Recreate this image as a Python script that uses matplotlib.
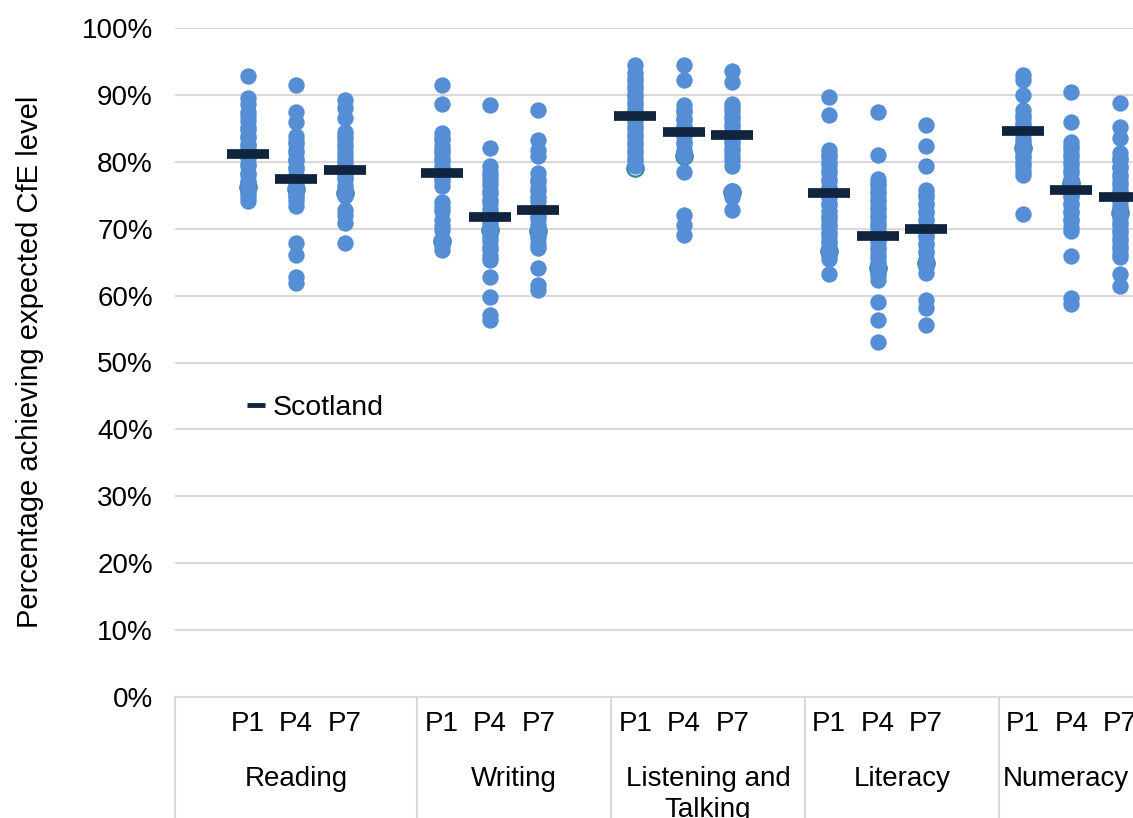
import matplotlib
matplotlib.use('Agg')
import matplotlib.pyplot as plt
import matplotlib.transforms as mtransforms
from matplotlib.lines import Line2D

plt.rcParams['font.family'] = ['Liberation Sans', 'DejaVu Sans']

# categories
groups = ['Reading', 'Writing', 'Listening and\nTalking', 'Literacy', 'Numeracy']
stages = ['P1', 'P4', 'P7']

# local authority values (% achieving expected level)
reading_p1 = [92.8, 89.6, 88.7, 87.5, 86.9, 86.1, 85.2, 84.7, 83.9, 83.5, 82.7, 82.3, 81.7,
              80.9, 80.5, 79.6, 79.3, 78.4, 78.1, 77.2, 76.8, 76.1, 75.6, 75.3, 74.7, 74.2]
reading_p4 = [91.5, 87.5, 86.0, 83.8, 83.1, 82.6, 81.7, 81.3, 80.4, 80.1, 79.2, 78.9, 78.1,
              77.5, 77.0, 76.3, 75.9, 75.0, 74.7, 74.1, 73.4, 67.8, 66.1, 62.8, 61.9]
reading_p7 = [89.2, 88.1, 86.5, 84.5, 83.8, 83.4, 82.6, 82.2, 81.4, 80.8, 80.3, 79.6, 79.2,
              78.4, 77.8, 77.4, 76.6, 76.0, 75.5, 74.9, 72.8, 72.0, 70.8, 67.8]
writing_p1 = [91.5, 88.6, 84.3, 83.6, 83.2, 82.4, 81.8, 81.3, 80.6, 80.1, 79.4, 78.8, 78.2,
              77.6, 77.1, 76.4, 74.0, 73.2, 72.6, 71.3, 70.4, 69.8, 68.3, 67.5, 66.8]
writing_p4 = [88.5, 82.0, 79.3, 78.5, 77.9, 77.1, 76.6, 75.7, 75.2, 74.3, 73.8, 72.9, 72.4,
              71.5, 70.9, 70.1, 69.6, 68.7, 68.2, 67.3, 66.8, 65.9, 65.3, 62.8, 59.8, 57.1, 56.4]
writing_p7 = [87.8, 83.3, 81.8, 80.8, 78.3, 77.5, 77.0, 76.1, 75.6, 74.7, 74.2, 73.3, 72.8,
              71.9, 71.4, 70.5, 69.9, 69.1, 68.6, 67.7, 67.1, 64.1, 61.6, 60.8]
listening_p1 = [94.5, 93.2, 92.5, 92.1, 91.3, 90.9, 90.1, 89.7, 88.9, 88.5, 87.7, 87.3, 86.5,
                86.1, 85.3, 84.9, 84.1, 83.7, 82.9, 82.5, 81.7, 81.3, 80.5, 80.1, 79.3]
listening_p4 = [94.5, 92.2, 88.5, 87.8, 87.4, 86.6, 86.2, 85.4, 85.0, 84.2, 83.8, 83.0, 82.6,
                81.8, 81.4, 80.8, 78.5, 72.0, 70.5, 69.1]
listening_p7 = [93.5, 92.0, 88.7, 88.0, 87.6, 86.8, 86.4, 85.6, 85.2, 84.4, 84.0, 83.2, 82.8,
                82.0, 81.6, 80.8, 80.2, 79.3, 75.6, 74.8, 72.8]
literacy_p1 = [89.7, 87.0, 81.8, 81.1, 80.7, 79.9, 79.5, 78.7, 78.3, 77.5, 77.1, 76.3, 75.9,
               75.1, 74.7, 73.9, 73.5, 72.7, 71.9, 71.5, 70.7, 70.3, 69.5, 69.1, 68.3, 67.9,
               67.1, 66.7, 66.0, 65.4, 63.3]
literacy_p4 = [87.5, 81.0, 77.5, 76.8, 76.4, 75.6, 75.2, 74.4, 74.0, 73.2, 72.8, 72.0, 71.6,
               70.8, 70.4, 69.6, 69.2, 68.4, 68.0, 67.2, 66.8, 66.0, 65.6, 64.8, 64.4, 63.6,
               63.1, 62.4, 59.1, 56.4, 53.1]
literacy_p7 = [85.5, 82.3, 79.3, 75.8, 75.1, 74.7, 73.9, 73.5, 72.7, 72.3, 71.5, 71.1, 70.3,
               69.9, 69.1, 68.7, 67.9, 67.5, 66.7, 66.3, 65.5, 65.0, 64.3, 63.4, 59.3, 58.1, 55.6]
numeracy_p1 = [93.0, 92.3, 90.0, 87.7, 87.0, 86.6, 85.8, 85.4, 84.6, 84.2, 83.4, 83.0, 82.2,
               81.8, 81.0, 80.6, 79.8, 79.4, 78.6, 78.0, 72.2]
numeracy_p4 = [90.5, 86.0, 83.0, 82.3, 81.9, 81.1, 80.7, 79.9, 79.5, 78.7, 78.3, 77.5, 77.1,
               76.3, 75.9, 75.1, 74.7, 73.9, 73.5, 72.7, 72.3, 71.5, 71.1, 70.3, 69.7, 65.9,
               59.6, 58.8]
numeracy_p7 = [88.8, 85.2, 83.5, 81.3, 80.6, 80.2, 79.4, 79.0, 78.2, 77.8, 77.0, 76.6, 75.8,
               75.4, 74.6, 74.2, 73.4, 73.0, 72.2, 71.8, 71.0, 70.6, 69.8, 69.4, 68.6, 68.2,
               67.4, 67.0, 66.2, 65.8, 63.3, 61.4]

series = [
    [reading_p1, reading_p4, reading_p7],
    [writing_p1, writing_p4, writing_p7],
    [listening_p1, listening_p4, listening_p7],
    [literacy_p1, literacy_p4, literacy_p7],
    [numeracy_p1, numeracy_p4, numeracy_p7],
]

# highlighted authority (open ring) and Scotland average
highlight = [[76.3, 76.0, 75.3], [68.1, 69.8, 69.6], [79.0, 80.8, 75.5],
             [66.6, 64.1, 64.8], [82.0, 76.8, 72.3]]
scotland = [[81.2, 77.4, 78.7], [78.3, 71.8, 72.8], [86.9, 84.4, 84.0],
            [75.3, 68.9, 70.0], [84.6, 75.8, 74.7]]

BLUE = '#558ED5'
TEAL = '#31869B'
NAVY = '#10243E'
GRID = '#D9D9D9'
FS = 20

fig = plt.figure(figsize=(11.33, 8.18), dpi=100)
ax = fig.add_axes([175 / 1133, 121 / 818, 958 / 1133, 669 / 818])

x_right = 19.27
ticks = []
for g in range(len(groups)):
    for s in range(len(stages)):
        x = 1 + 4 * g + s
        ticks.append(x)
        vals = series[g][s]
        ax.plot([x] * len(vals), vals, 'o', ms=11.8, color=BLUE, mec='none', zorder=3)
        ax.plot(x, highlight[g][s], 'o', ms=11.8, mfc='none', mec=TEAL, mew=1.6, zorder=2)
        ax.plot(x, scotland[g][s], marker='_', ms=30, mew=7, color=NAVY, zorder=4)

ax.set_xlim(-0.5, x_right)
ax.set_ylim(0, 100)

# y axis
ax.set_yticks(range(0, 101, 10))
ax.set_yticklabels([f'{v}%' for v in range(0, 101, 10)])
ax.yaxis.grid(True, color=GRID, lw=1.5)
ax.set_axisbelow(True)
ax.tick_params(axis='y', length=0, pad=16, labelsize=FS)
for side in ['top', 'right', 'left']:
    ax.spines[side].set_visible(False)
ax.spines['bottom'].set_color(GRID)
ax.spines['bottom'].set_linewidth(1.5)

# stage labels on the x axis
ax.set_xticks(ticks)
ax.set_xticklabels(stages * len(groups))
ax.tick_params(axis='x', length=0, pad=10, labelsize=FS)

# group separators and group labels below the axis
trans = mtransforms.blended_transform_factory(ax.transData, ax.transAxes)
bounds = [-0.5, 4.5, 8.5, 12.5, 16.5, x_right]
for b in bounds[:-1]:
    ax.plot([b, b], [0, -0.25], transform=trans, color=GRID, lw=1.5, clip_on=False)
for g, name in enumerate(groups):
    xc = (bounds[g] + bounds[g + 1]) / 2
    ax.text(xc, -0.103, name, transform=trans, ha='center', va='top', fontsize=FS,
            linespacing=1.25)

fig.text(30 / 1133, (818 - 362) / 818, 'Percentage achieving expected CfE level',
         rotation=90, ha='center', va='center', fontsize=21)

handle = Line2D([], [], ls='', marker='_', ms=13, mew=3.5, color=NAVY)
ax.legend([handle], ['Scotland'], loc='center left', frameon=False, fontsize=20.5,
          bbox_to_anchor=(247 / 1133, 0.501), bbox_transform=fig.transFigure,
          handlelength=0.6, handletextpad=0.3, borderpad=0, borderaxespad=0)

fig.savefig('out.png', dpi=100)
